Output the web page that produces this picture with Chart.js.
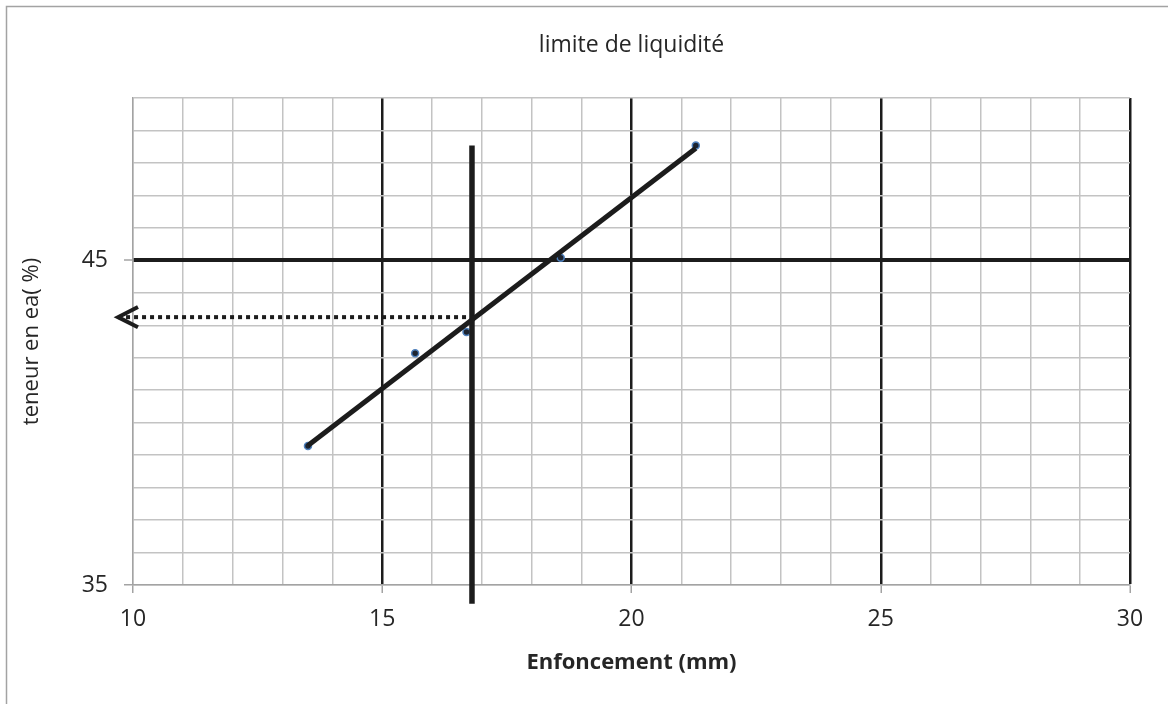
<!DOCTYPE html>
<html>
<head>
<meta charset="utf-8">
<script src="https://cdn.jsdelivr.net/npm/chart.js@4/dist/chart.umd.min.js"></script>
<style>
  html, body { margin: 0; padding: 0; background: #fff; }
  #wrap { position: relative; width: 1168px; height: 704px; }
</style>
</head>
<body>
<div id="wrap"><canvas id="graphe"></canvas></div>
<script>
// valeurs
const enfoncement = [13.51, 15.66, 16.69, 18.58, 21.29];   // mm
const teneur = [39.28, 42.14, 42.79, 45.08, 48.54];        // %

// droite de tendance (extrémités lues)
const tendanceX = [13.51, 21.29];
const tendanceY = [39.3, 48.45];

// lecture à 17 mm environ
const lectureX = [16.8, 16.8];
const lectureYVert = [48.54, 34.42];
const flecheX = [9.7, 16.8];
const flecheY = [43.25, 43.25];
const pointeX = [10.1, 9.7, 10.1];
const pointeY = [43.56, 43.25, 42.94];

const xTicks = [10, 15, 20, 25, 30];
const yTicks = [35, 45];

const police = "'Open Sans', 'DejaVu Sans', sans-serif";
const gris = '#c3c3c3';
const noir = '#1c1c1c';

function pts(xs, ys) {
    return xs.map((x, i) => ({ x: x, y: ys[i] }));
}

// cadre gris autour du graphique
const cadre = {
    id: 'cadre',
    beforeDraw(chart) {
        const ctx = chart.ctx;
        ctx.save();
        ctx.fillStyle = '#fff';
        ctx.fillRect(0, 0, chart.width, chart.height);
        ctx.strokeStyle = '#a3a3a3';
        ctx.lineWidth = 1.5;
        ctx.beginPath();
        ctx.moveTo(6.5, chart.height);
        ctx.lineTo(6.5, 6.5);
        ctx.lineTo(chart.width, 6.5);
        ctx.stroke();
        ctx.restore();
    }
};

new Chart(document.getElementById('graphe'), {
    type: 'scatter',
    data: {
        datasets: [
            {
                label: 'tendance',
                data: pts(tendanceX, tendanceY),
                showLine: true,
                borderColor: noir,
                borderWidth: 5,
                pointRadius: 0,
                order: 1
            },
            {
                label: 'verticale',
                data: pts(lectureX, lectureYVert),
                showLine: true,
                borderColor: noir,
                borderWidth: 5.5,
                borderCapStyle: 'butt',
                pointRadius: 0,
                clip: false,
                order: 1
            },
            {
                label: 'lecture',
                data: pts(flecheX, flecheY),
                showLine: true,
                borderColor: noir,
                borderWidth: 4,
                borderDash: [4, 4],
                pointRadius: 0,
                clip: false,
                order: 2
            },
            {
                label: 'pointe',
                data: pts(pointeX, pointeY),
                showLine: true,
                borderColor: noir,
                borderWidth: 4,
                pointRadius: 0,
                clip: false,
                order: 2
            },
            {
                label: 'essais',
                data: pts(enfoncement, teneur),
                showLine: false,
                pointRadius: 3.5,
                pointBackgroundColor: '#1d2430',
                pointBorderColor: '#4f81bd',
                pointBorderWidth: 1.5,
                order: 5
            }
        ]
    },
    options: {
        responsive: true,
        maintainAspectRatio: false,
        animation: false,
        layout: { padding: { left: 0, top: 0, right: 38, bottom: 0 } },
        plugins: {
            legend: { display: false },
            tooltip: { enabled: false },
            title: {
                display: true,
                fullSize: false,
                text: 'limite de liquidité',
                color: '#262626',
                font: { family: police, size: 23, weight: 'normal', lineHeight: 1.2 },
                padding: { top: 31.2, bottom: 39.2 }
            }
        },
        scales: {
            x: {
                type: 'linear',
                min: 10,
                max: 30,
                afterFit: s => { s.height = 119; },
                afterBuildTicks: s => {
                    s.ticks = [];
                    for (let v = 10; v <= 30; v++) s.ticks.push({ value: v });
                },
                ticks: {
                    autoSkip: false,
                    maxRotation: 0,
                    padding: 13,
                    color: '#262626',
                    font: { family: police, size: 23 },
                    callback: v => xTicks.includes(v) ? v : ''
                },
                grid: {
                    color: c => (c.tick && c.tick.value % 5 === 0 && c.tick.value !== 10) ? noir : gris,
                    lineWidth: c => (c.tick && c.tick.value % 5 === 0 && c.tick.value !== 10) ? 2.5 : 1.5,
                    tickColor: c => (c.tick && xTicks.includes(c.tick.value)) ? '#a3a3a3' : 'rgba(0,0,0,0)',
                    tickLength: 8,
                    tickWidth: 1.5
                },
                border: { color: '#a3a3a3', width: 1.5 },
                title: {
                    display: true,
                    text: 'Enfoncement (mm)',
                    color: '#262626',
                    font: { family: police, size: 22, weight: 'bold', lineHeight: 1.2 },
                    padding: { top: 0, bottom: 27.8 }
                }
            },
            y: {
                type: 'linear',
                min: 35,
                max: 50,
                afterFit: s => { s.width = 133; },
                afterBuildTicks: s => {
                    s.ticks = [];
                    for (let v = 35; v <= 50; v++) s.ticks.push({ value: v });
                },
                ticks: {
                    autoSkip: false,
                    padding: 16,
                    color: '#262626',
                    font: { family: police, size: 23 },
                    callback: v => yTicks.includes(v) ? v : ''
                },
                grid: {
                    color: c => (c.tick && c.tick.value === 45) ? noir : gris,
                    lineWidth: c => (c.tick && c.tick.value === 45) ? 4 : 1.5,
                    tickColor: c => (c.tick && yTicks.includes(c.tick.value)) ? '#a3a3a3' : 'rgba(0,0,0,0)',
                    tickLength: 9,
                    tickWidth: 1.5
                },
                border: { color: '#a3a3a3', width: 1.5 },
                title: {
                    display: true,
                    text: 'teneur en ea( %)',
                    color: '#262626',
                    font: { family: police, size: 22, weight: 'normal', lineHeight: 1.2 },
                    padding: { top: 19, bottom: 0 }
                }
            }
        }
    },
    plugins: [cadre]
});
</script>
</body>
</html>
